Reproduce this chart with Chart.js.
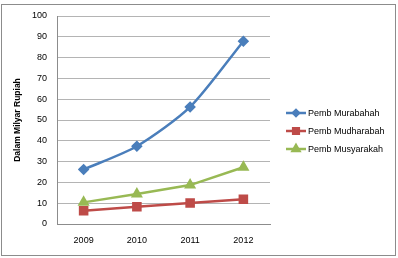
<!DOCTYPE html>
<html>
<head>
<meta charset="utf-8">
<script src="https://cdn.jsdelivr.net/npm/chart.js@4"></script>
<style>
  body { margin: 0; background: #fff; }
  #wrap { width: 398px; height: 258px; }
</style>
</head>
<body>
<div id="wrap"><canvas id="pembChart" width="398" height="258"></canvas></div>
<script>
// data
const years = ["2009", "2010", "2011", "2012"];
const murabahah = [26.2, 37.4, 56.3, 87.9];
const mudharabah = [6.4, 8.3, 10.1, 11.9];
const musyarakah = [10.4, 14.4, 18.7, 27.3];
const yTicks = [0, 10, 20, 30, 40, 50, 60, 70, 80, 90, 100];

const FONT = "'Liberation Sans', Arial, sans-serif";

// outer frame + legend drawn on the canvas
const framePlugin = {
  id: "frame",
  beforeDraw(chart) {
    const c = chart.ctx;
    c.save();
    c.fillStyle = "#fff";
    c.fillRect(0, 0, chart.width, chart.height);
    c.strokeStyle = "#8c8c8c";
    c.lineWidth = 1;
    c.strokeRect(1.5, 4.5, 394, 251);
    c.restore();
  },
  afterDraw(chart) {
    const c = chart.ctx;
    const x0 = 286, rows = [113, 131, 149];
    const legendRadius = [3, 4, 4];
    c.save();
    chart.data.datasets.forEach((ds, i) => {
      const y = rows[i];
      c.strokeStyle = ds.borderColor;
      c.lineWidth = 2.5;
      c.beginPath();
      c.moveTo(x0, y);
      c.lineTo(x0 + 20, y);
      c.stroke();
      c.fillStyle = ds.backgroundColor;
      c.strokeStyle = ds.borderColor;
      Chart.helpers.drawPoint(c, {
        pointStyle: ds.pointStyle,
        radius: legendRadius[i],
        borderWidth: 1
      }, x0 + 10, y);
      c.fillStyle = "#000";
      c.font = "9px " + FONT;
      c.textBaseline = "middle";
      c.fillText(ds.label, x0 + 22, y + 0.5);
    });
    c.restore();
  }
};

new Chart(document.getElementById("pembChart").getContext("2d"), {
  type: "line",
  data: {
    labels: years,
    datasets: [
      {
        label: "Pemb Murabahah",
        data: murabahah,
        borderColor: "#4a7ebb",
        backgroundColor: "#4a7ebb",
        pointStyle: "rectRot",
        pointRadius: 4,
        borderWidth: 2.5,
        tension: 0.25
      },
      {
        label: "Pemb Mudharabah",
        data: mudharabah,
        borderColor: "#be4b48",
        backgroundColor: "#be4b48",
        pointStyle: "rect",
        pointRadius: 5,
        borderWidth: 2.5,
        tension: 0
      },
      {
        label: "Pemb Musyarakah",
        data: musyarakah,
        borderColor: "#98b954",
        backgroundColor: "#98b954",
        pointStyle: "triangle",
        pointRadius: 4.5,
        borderWidth: 2.5,
        tension: 0
      }
    ]
  },
  options: {
    responsive: false,
    animation: false,
    layout: { padding: { top: 16, right: 128, bottom: 0, left: 0 } },
    plugins: {
      legend: { display: false },
      tooltip: { enabled: false }
    },
    scales: {
      x: {
        offset: true,
        grid: { display: false, drawTicks: false },
        border: { color: "#8c8c8c", width: 1 },
        ticks: { color: "#000", font: { family: FONT, size: 9 }, padding: 11 },
        afterFit(s) { s.height = 34; }
      },
      y: {
        min: 0,
        max: 100,
        afterBuildTicks(s) { s.ticks = yTicks.map(v => ({ value: v })); },
        grid: { color: "#b4b4b4", lineWidth: 1, drawTicks: false },
        border: { color: "#8c8c8c", width: 1 },
        ticks: { color: "#000", font: { family: FONT, size: 9 }, padding: 10 },
        title: {
          display: true,
          text: "Dalam Milyar Rupiah",
          color: "#000",
          font: { family: FONT, size: 8.5, weight: "bold" },
          padding: { top: 13, bottom: 0 }
        },
        afterFit(s) { s.width = 57; }
      }
    }
  },
  plugins: [framePlugin]
});
</script>
</body>
</html>
